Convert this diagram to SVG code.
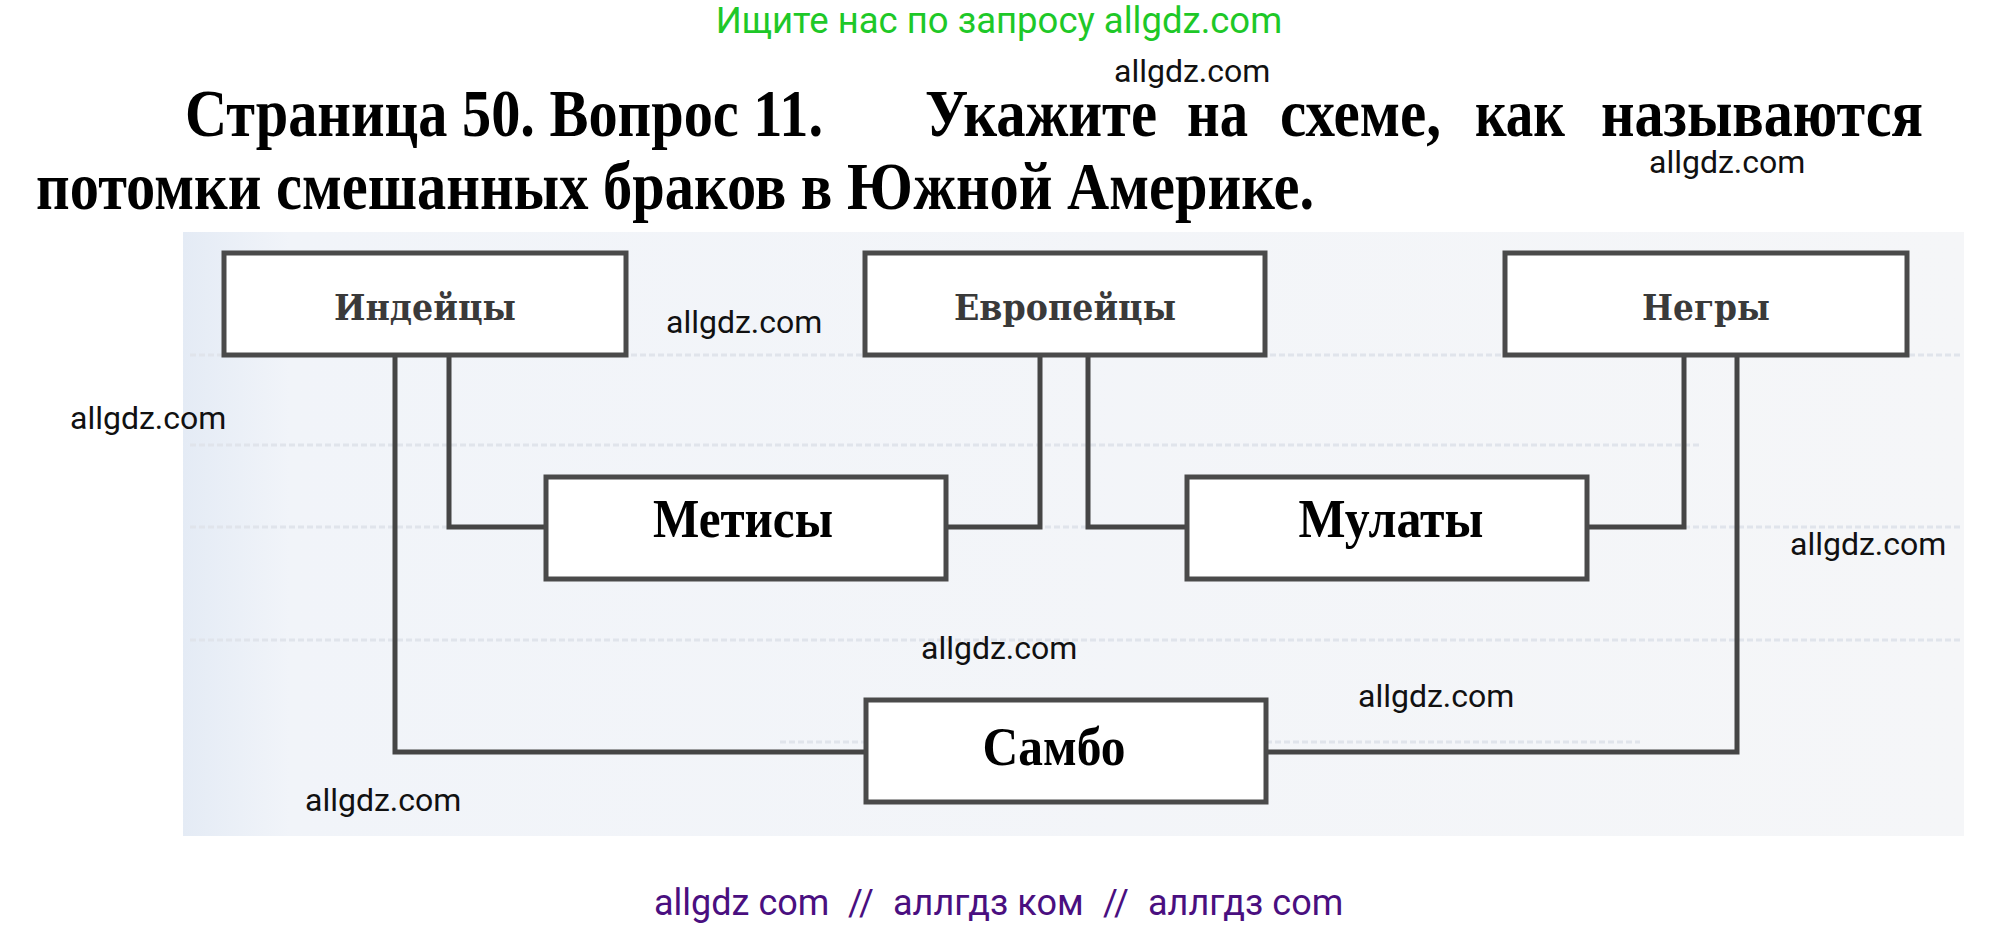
<svg xmlns="http://www.w3.org/2000/svg" width="2000" height="931" viewBox="0 0 2000 931">
<defs>
<linearGradient id="scan" x1="0" y1="0" x2="1" y2="0">
<stop offset="0" stop-color="#e4ebf5"/>
<stop offset="0.06" stop-color="#f1f4f9"/>
<stop offset="1" stop-color="#f5f6f8"/>
</linearGradient>
<style>
.title{font-family:"Liberation Serif","Times New Roman",serif;font-weight:bold;font-size:68px;fill:#000}
.wm{font-family:Roboto,"Liberation Sans",sans-serif;font-size:32px;fill:#111}
.green{font-family:Roboto,"Liberation Sans",sans-serif;font-size:36.5px;fill:#1ec828}
.purple{font-family:Roboto,"Liberation Sans",sans-serif;font-size:36px;fill:#4a0f80}
.box{fill:#fff;stroke:#4a4a4a;stroke-width:5}
.top{font-family:"DejaVu Serif","Liberation Serif",serif;font-weight:bold;font-size:35px;fill:#3a3a3a;text-anchor:middle}
.lbl{font-family:"Liberation Serif","Times New Roman",serif;font-weight:bold;font-size:54px;fill:#000;text-anchor:middle}
.conn{fill:none;stroke:#454545;stroke-width:5}
.ghost{stroke:#e0e4eb;stroke-width:3;stroke-dasharray:6 3}
</style>
</defs>
<rect width="2000" height="931" fill="#fff"/>
<rect x="183" y="232" width="1781" height="604" fill="url(#scan)"/>
<g id="ghostlines">
<line class="ghost" x1="190" y1="355" x2="1960" y2="355"/>
<line class="ghost" x1="190" y1="445" x2="1700" y2="445"/>
<line class="ghost" x1="190" y1="527" x2="1960" y2="527"/>
<line class="ghost" x1="190" y1="640" x2="1960" y2="640"/>
<line class="ghost" x1="780" y1="742" x2="1640" y2="742"/>
</g>

<text class="green" x="999" y="33" text-anchor="middle">Ищите нас по запросу allgdz.com</text>

<g id="title">
<text class="title" x="185" y="136" textLength="638" lengthAdjust="spacingAndGlyphs">Страница 50. Вопрос 11.</text>
<text class="title" x="925" y="136" textLength="232" lengthAdjust="spacingAndGlyphs">Укажите</text>
<text class="title" x="1187" y="136" textLength="61" lengthAdjust="spacingAndGlyphs">на</text>
<text class="title" x="1280" y="136" textLength="161" lengthAdjust="spacingAndGlyphs">схеме,</text>
<text class="title" x="1475" y="136" textLength="90" lengthAdjust="spacingAndGlyphs">как</text>
<text class="title" x="1601" y="136" textLength="322" lengthAdjust="spacingAndGlyphs">называются</text>
<text class="title" x="36" y="209" textLength="1278" lengthAdjust="spacingAndGlyphs">потомки смешанных браков в Южной Америке.</text>
</g>

<g id="connectors">
<polyline class="conn" points="395,355 395,752 866,752"/>
<polyline class="conn" points="449,355 449,527 546,527"/>
<polyline class="conn" points="1040,355 1040,527 946,527"/>
<polyline class="conn" points="1088,355 1088,527 1187,527"/>
<polyline class="conn" points="1684,355 1684,527 1587,527"/>
<polyline class="conn" points="1737,355 1737,752 1266,752"/>
</g>

<g id="indeitsy">
<rect class="box" x="224" y="253" width="402" height="102"/>
<text class="top" x="425" y="320" textLength="182" lengthAdjust="spacingAndGlyphs">Индейцы</text>
</g>
<g id="evropeitsy">
<rect class="box" x="865" y="253" width="400" height="102"/>
<text class="top" x="1065" y="320" textLength="222" lengthAdjust="spacingAndGlyphs">Европейцы</text>
</g>
<g id="negry">
<rect class="box" x="1505" y="253" width="402" height="102"/>
<text class="top" x="1706" y="320" textLength="128" lengthAdjust="spacingAndGlyphs">Негры</text>
</g>
<g id="metisy">
<rect class="box" x="546" y="477" width="400" height="102"/>
<text class="lbl" x="743" y="537" textLength="180" lengthAdjust="spacingAndGlyphs">Метисы</text>
</g>
<g id="mulaty">
<rect class="box" x="1187" y="477" width="400" height="102"/>
<text class="lbl" x="1391" y="537" textLength="185" lengthAdjust="spacingAndGlyphs">Мулаты</text>
</g>
<g id="sambo">
<rect class="box" x="866" y="700" width="400" height="102"/>
<text class="lbl" x="1054" y="765" textLength="143" lengthAdjust="spacingAndGlyphs">Самбо</text>
</g>

<g id="watermarks">
<text class="wm" x="1114" y="82">allgdz.com</text>
<text class="wm" x="1649" y="173">allgdz.com</text>
<text class="wm" x="666" y="333">allgdz.com</text>
<text class="wm" x="70" y="429">allgdz.com</text>
<text class="wm" x="1790" y="555">allgdz.com</text>
<text class="wm" x="921" y="659">allgdz.com</text>
<text class="wm" x="1358" y="707">allgdz.com</text>
<text class="wm" x="305" y="811">allgdz.com</text>
</g>

<g id="footer">
<text class="purple" x="654" y="915">allgdz com</text>
<text class="purple" x="848" y="915">//</text>
<text class="purple" x="893" y="915">аллгдз ком</text>
<text class="purple" x="1103" y="915">//</text>
<text class="purple" x="1148" y="915">аллгдз com</text>
</g>
</svg>
